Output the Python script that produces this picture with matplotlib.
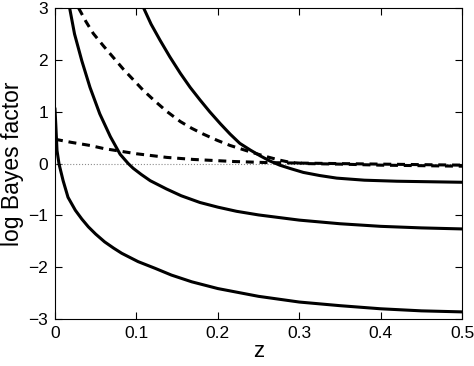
import numpy as np
import matplotlib
matplotlib.use("Agg")
import matplotlib.pyplot as plt

plt.rcParams["font.family"] = ["Liberation Sans", "DejaVu Sans"]

# solid curves
z_low = [0.0, 0.001, 0.0025, 0.005, 0.01, 0.016, 0.025, 0.033, 0.041, 0.05, 0.061, 0.072,
         0.082, 0.092, 0.102, 0.123, 0.143, 0.168, 0.2, 0.25, 0.3, 0.35, 0.4, 0.45, 0.5]
bf_low = [1.05, 0.75, 0.25, -0.01, -0.33, -0.65, -0.90, -1.07, -1.22, -1.36, -1.51, -1.63,
          -1.73, -1.81, -1.89, -2.02, -2.15, -2.28, -2.41, -2.56, -2.67, -2.74, -2.80, -2.84, -2.86]

z_mid = [0.018, 0.024, 0.033, 0.043, 0.055, 0.068, 0.08, 0.09, 0.096, 0.106, 0.117, 0.137,
         0.155, 0.178, 0.2, 0.223, 0.25, 0.3, 0.35, 0.4, 0.45, 0.5]
bf_mid = [3.0, 2.5, 1.98, 1.47, 0.96, 0.52, 0.18, 0.0, -0.09, -0.21, -0.33, -0.49,
          -0.62, -0.75, -0.84, -0.92, -0.99, -1.09, -1.16, -1.21, -1.24, -1.26]

z_high = [0.108, 0.118, 0.129, 0.141, 0.154, 0.166, 0.178, 0.19, 0.203, 0.215, 0.227, 0.24,
          0.252, 0.264, 0.276, 0.29, 0.305, 0.325, 0.346, 0.38, 0.42, 0.46, 0.5]
bf_high = [3.03, 2.69, 2.38, 2.06, 1.74, 1.47, 1.23, 1.0, 0.77, 0.57, 0.39, 0.26,
           0.15, 0.05, -0.03, -0.10, -0.17, -0.23, -0.28, -0.32, -0.34, -0.35, -0.36]

# dashed curves
z_dash1 = [0.029, 0.038, 0.047, 0.06, 0.072, 0.084, 0.096, 0.108, 0.121, 0.137, 0.154, 0.168,
           0.182, 0.199, 0.215, 0.235, 0.256, 0.275, 0.29, 0.31, 0.35, 0.4, 0.45, 0.5]
bf_dash1 = [3.0, 2.74, 2.51, 2.26, 2.04, 1.82, 1.62, 1.42, 1.23, 1.01, 0.81, 0.68,
            0.57, 0.45, 0.35, 0.25, 0.15, 0.07, 0.02, 0.0, -0.01, -0.03, -0.04, -0.05]

z_dash2 = [0.0, 0.02, 0.043, 0.06, 0.088, 0.1, 0.137, 0.17, 0.22, 0.26, 0.3, 0.35, 0.4, 0.45, 0.5]
bf_dash2 = [0.47, 0.41, 0.35, 0.29, 0.22, 0.19, 0.12, 0.08, 0.04, 0.02, 0.01, 0.0, -0.01, -0.02, -0.03]

fig = plt.figure(figsize=(4.74, 3.66), dpi=100)
ax = fig.add_axes([0.116, 0.128, 0.859, 0.850])

ax.plot([0, 0.5], [0, 0], linestyle=":", color="0.55", linewidth=0.8)

for zz, bb in [(z_low, bf_low), (z_mid, bf_mid), (z_high, bf_high)]:
    ax.plot(zz, bb, color="black", linewidth=2.2, solid_joinstyle="round")
for zz, bb in [(z_dash1, bf_dash1), (z_dash2, bf_dash2)]:
    ax.plot(zz, bb, color="black", linewidth=2.2, dashes=(2.6, 1.9))

ax.set_xlim(0, 0.5)
ax.set_ylim(-3, 3)
ax.set_xticks([0, 0.1, 0.2, 0.3, 0.4, 0.5])
ax.set_xticklabels(["0", "0.1", "0.2", "0.3", "0.4", "0.5"])
ax.set_yticks([-3, -2, -1, 0, 1, 2, 3])
ax.set_yticklabels(["\u22123", "\u22122", "\u22121", "0", "1", "2", "3"])
ax.tick_params(direction="in", length=5, width=0.8, top=True, right=True,
               labelsize=12.5, pad=5)
for s in ax.spines.values():
    s.set_linewidth(0.8)

ax.set_xlabel("z", fontsize=16, labelpad=0)
ax.set_ylabel("log Bayes factor", fontsize=16.5, labelpad=3)

fig.savefig("out.png", dpi=100)
